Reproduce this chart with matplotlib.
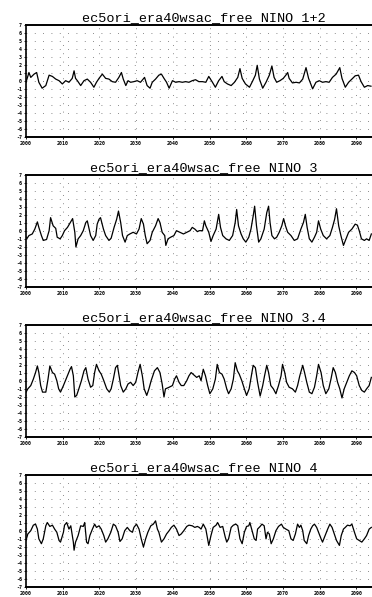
import numpy as np
import matplotlib
matplotlib.use('Agg')
import matplotlib.pyplot as plt

# values (year, index anomaly)
yr_n12 = [2000.0, 2000.8, 2001.3, 2002.2, 2002.9, 2003.5, 2004.4, 2005.4, 2006.3, 2007.2,
          2008.1, 2009.0, 2009.9, 2010.8, 2011.7, 2012.6, 2013.1, 2013.5, 2014.0, 2014.9,
          2015.8, 2016.7, 2017.6, 2018.5, 2019.2, 2019.9, 2020.8, 2021.7, 2022.6, 2023.5,
          2024.4, 2025.3, 2026.0, 2026.5, 2027.2, 2027.8, 2028.5, 2029.4, 2030.3, 2031.2,
          2032.3, 2033.0, 2033.8, 2034.4, 2035.3, 2036.2, 2036.9, 2037.6, 2038.3, 2039.0,
          2039.9, 2040.8, 2041.7, 2042.6, 2043.5, 2044.4, 2045.3, 2046.2, 2047.1, 2048.1,
          2049.0, 2049.8, 2050.7, 2051.6, 2052.5, 2053.4, 2054.0, 2054.9, 2055.9, 2056.8,
          2057.7, 2058.3, 2058.9, 2059.8, 2060.9, 2061.8, 2062.5, 2063.0, 2063.6, 2064.5,
          2065.4, 2066.3, 2067.0, 2067.6, 2068.3, 2069.2, 2070.1, 2070.8, 2071.3, 2071.7,
          2072.6, 2073.6, 2074.5, 2075.4, 2076.3, 2077.0, 2078.1, 2079.0, 2079.9, 2080.8,
          2081.7, 2082.6, 2083.5, 2084.5, 2085.5, 2086.1, 2087.0, 2087.9, 2088.8, 2089.7,
          2090.6, 2091.3, 2092.2, 2093.1, 2094.0]
val_n12 = [-0.16, 1.06, 0.45, 0.86, 1.06, -0.16, -0.9, -0.57, 0.73, 0.57,
           0.24, 0.04, -0.37, 0.04, -0.16, 0.33, 1.27, 0.33, 0.04, -0.57,
           0.04, 0.24, -0.16, -0.78, -0.16, 0.33, 0.86, 0.33, 0.24, -0.08,
           -0.16, 0.45, 1.06, 0.24, -0.57, 0.04, -0.16, -0.08, 0.04, -0.16,
           0.45, -0.57, -0.9, -0.16, 0.24, 0.73, 0.86, 0.33, -0.16, -0.9,
           0.04, -0.16, -0.08, -0.16, -0.08, -0.16, 0.04, 0.16, -0.08, -0.08,
           -0.16, 0.57, -0.08, -0.78, 0.04, 0.57, -0.08, -0.37, -0.57, -0.16,
           0.45, 1.55, 0.33, -0.37, -0.78, 0.04, 0.73, 1.96, 0.24, -0.9,
           -0.16, 0.73, 1.88, 0.45, -0.16, 0.04, 0.33, 0.73, 1.06, 0.33,
           -0.24, -0.16, -0.24, 0.24, 1.67, 0.33, -0.98, -0.16, 0.04, -0.16,
           -0.08, -0.16, 0.45, 0.86, 1.67, 0.33, -0.78, -0.16, 0.24, 0.65,
           0.73, -0.08, -0.78, -0.57, -0.65]

yr_n3 = [2000.0, 2000.2, 2000.8, 2001.7, 2002.4, 2003.1, 2003.5, 2004.2, 2004.7, 2005.6,
         2006.3, 2006.7, 2007.4, 2008.1, 2008.5, 2009.3, 2009.9, 2010.5, 2011.3, 2012.2,
         2012.7, 2013.3, 2013.6, 2014.2, 2014.9, 2015.6, 2016.3, 2016.7, 2017.2, 2017.6,
         2018.3, 2019.0, 2019.4, 2019.9, 2020.3, 2021.1, 2021.7, 2022.6, 2023.2, 2024.0,
         2024.7, 2025.2, 2025.8, 2026.3, 2027.0, 2027.6, 2028.3, 2029.2, 2030.1, 2030.8,
         2031.4, 2032.0, 2032.5, 2033.0, 2033.8, 2034.4, 2035.3, 2036.0, 2036.5, 2037.1,
         2037.8, 2038.1, 2038.7, 2039.4, 2040.3, 2041.0, 2041.9, 2042.9, 2043.8, 2044.7,
         2045.3, 2046.0, 2046.7, 2047.2, 2048.1, 2048.6, 2049.0, 2049.8, 2050.4, 2051.0,
         2051.8, 2052.5, 2053.0, 2053.6, 2054.5, 2055.4, 2056.3, 2057.0, 2057.4, 2057.9,
         2058.6, 2059.2, 2059.9, 2060.7, 2061.3, 2061.9, 2062.3, 2062.8, 2063.4, 2064.0,
         2064.9, 2065.6, 2066.1, 2066.5, 2067.0, 2067.7, 2068.3, 2069.0, 2069.7, 2070.2,
         2070.7, 2071.3, 2072.2, 2073.1, 2074.0, 2074.9, 2075.6, 2076.1, 2076.6, 2077.2,
         2077.9, 2078.6, 2079.2, 2079.7, 2080.3, 2081.0, 2081.9, 2082.8, 2083.5, 2084.1,
         2084.6, 2085.2, 2085.8, 2086.5, 2087.2, 2087.9, 2088.8, 2089.7, 2090.3, 2090.8,
         2091.4, 2092.2, 2092.8, 2093.5, 2094.1]
val_n3 = [-0.8, -0.98, -0.57, -0.37, 0.24, 1.14, 0.45, -0.57, -1.18, -1.06,
          0.04, 1.67, 0.65, 0.33, -0.78, -0.98, -0.57, 0.04, 0.45, 1.14,
          1.55, -0.16, -2.0, -0.98, -0.57, 0.04, 1.06, 1.27, 0.24, -0.57,
          -1.18, -0.57, 0.86, 1.47, 1.67, 0.24, -0.57, -1.18, -0.9, 0.45,
          1.47, 2.49, 1.06, -0.57, -1.39, -0.57, -0.37, -0.16, -0.37, 0.24,
          1.55, 0.86, -0.57, -1.59, -1.18, -0.16, 0.65, 1.55, 1.06, -0.16,
          -0.57, -1.8, -0.98, -0.78, -0.57, 0.04, -0.16, -0.37, -0.16, 0.04,
          0.45, 0.24, -0.08, 0.04, 0.04, 1.27, 0.65, -0.16, -1.31, -0.57,
          0.24, 2.08, 0.45, -0.57, -0.98, -1.18, -0.57, 1.06, 2.69, 0.65,
          -0.37, -0.98, -1.39, -0.78, 0.24, 1.88, 3.1, 0.65, -1.39, -0.98,
          0.24, 2.29, 3.1, 1.06, -0.57, -0.98, -0.78, -0.16, 0.65, 1.55,
          0.65, -0.16, -0.57, -1.18, -0.98, 0.24, 1.06, 2.08, 0.45, -0.98,
          -1.39, -0.78, -0.16, 1.27, 0.24, -0.57, -0.98, -0.57, 0.45, 1.47,
          2.78, 0.65, -0.57, -1.8, -0.98, -0.16, 0.24, 0.86, 0.73, 0.04,
          -0.98, -1.18, -0.98, -1.18, -0.37]

yr_n34 = [2000.0, 2000.5, 2001.3, 2002.0, 2002.6, 2003.1, 2003.5, 2004.0, 2004.5, 2005.4,
          2006.0, 2006.5, 2007.2, 2007.8, 2008.4, 2008.9, 2009.4, 2010.2, 2011.1, 2012.0,
          2012.4, 2012.9, 2013.3, 2013.8, 2014.4, 2015.1, 2015.8, 2016.3, 2016.9, 2017.6,
          2018.2, 2018.7, 2019.2, 2019.9, 2020.5, 2021.2, 2022.0, 2022.7, 2023.2, 2023.8,
          2024.4, 2024.9, 2025.3, 2025.8, 2026.5, 2027.2, 2027.8, 2028.5, 2029.2, 2029.9,
          2030.5, 2031.1, 2031.7, 2032.2, 2032.9, 2033.5, 2034.1, 2035.0, 2035.8, 2036.5,
          2037.1, 2037.6, 2038.0, 2039.0, 2039.9, 2040.5, 2041.0, 2041.7, 2042.3, 2043.0,
          2043.8, 2044.4, 2045.0, 2045.8, 2046.5, 2047.2, 2047.7, 2048.3, 2048.9, 2049.5,
          2050.1, 2050.9, 2051.6, 2052.1, 2052.7, 2053.4, 2054.0, 2054.7, 2055.2, 2055.9,
          2056.5, 2057.0, 2057.6, 2058.1, 2058.8, 2059.5, 2060.1, 2060.8, 2061.4, 2061.9,
          2062.5, 2063.1, 2063.8, 2064.5, 2065.0, 2065.6, 2066.1, 2066.7, 2067.4, 2068.1,
          2068.8, 2069.5, 2069.9, 2070.5, 2071.0, 2071.7, 2072.6, 2073.4, 2074.0, 2074.6,
          2075.4, 2075.9, 2076.5, 2077.2, 2077.9, 2078.6, 2079.2, 2079.7, 2080.4, 2081.0,
          2081.7, 2082.5, 2083.1, 2083.7, 2084.3, 2084.9, 2085.5, 2086.1, 2086.7, 2087.4,
          2088.1, 2088.8, 2089.5, 2090.1, 2090.8, 2091.5, 2092.2, 2092.8, 2093.5, 2094.1]
val_n34 = [-1.4, -0.98, -0.57, 0.24, 1.06, 1.88, 1.06, -0.57, -1.39, -1.39,
           0.24, 1.88, 1.06, 0.86, 0.04, -0.98, -1.39, -0.57, 0.45, 1.47,
           1.8, 0.65, -2.0, -1.8, -0.98, 0.04, 1.27, 1.67, 0.24, -0.78,
           -0.57, 1.06, 2.08, 1.27, 0.86, 0.04, -0.98, -1.39, -0.98, 0.24,
           1.67, 1.96, 0.86, -0.57, -1.39, -0.98, -0.37, -0.16, -0.57, -0.16,
           1.06, 2.08, 0.65, -0.98, -1.8, -0.98, 0.04, 1.27, 1.67, 1.06,
           -0.37, -2.0, -0.98, -0.78, -0.57, 0.24, 0.65, -0.16, -0.57, -0.57,
           0.04, 0.65, 1.06, 0.73, 0.45, 0.65, 0.04, 1.47, 0.65, -0.57,
           -1.59, -0.98, 0.24, 2.08, 1.06, 0.86, 0.24, -0.98, -1.59, -0.98,
           0.24, 2.29, 1.27, 0.86, 0.04, -0.98, -1.8, -0.98, 0.65, 1.96,
           1.67, -0.16, -1.88, -0.57, 0.65, 1.96, 1.06, -0.57, -0.98, -1.59,
           -0.57, 0.65, 2.08, 1.06, -0.16, -0.78, -0.98, -1.39, -0.57, 0.65,
           1.96, 1.06, -0.16, -1.39, -1.59, -0.78, 0.65, 2.08, 1.06, -0.57,
           -1.59, -0.98, 0.24, 1.67, 1.06, -0.16, -0.98, -2.12, -0.98, -0.16,
           0.65, 1.27, 1.06, 0.65, -0.57, -1.18, -1.39, -0.98, -0.57, 0.45]

yr_n4 = [2000.0, 2000.5, 2001.3, 2002.0, 2002.6, 2003.1, 2003.5, 2004.2, 2004.7, 2005.4,
         2005.8, 2006.5, 2007.2, 2007.8, 2008.4, 2009.0, 2009.4, 2010.2, 2010.5, 2011.1,
         2011.7, 2012.2, 2012.9, 2013.1, 2013.5, 2014.2, 2014.9, 2015.6, 2016.0, 2016.5,
         2016.9, 2017.4, 2018.1, 2018.7, 2019.2, 2019.9, 2020.5, 2021.2, 2021.7, 2022.3,
         2023.1, 2023.8, 2024.4, 2025.1, 2025.6, 2026.2, 2026.9, 2027.6, 2028.3, 2029.0,
         2029.4, 2030.1, 2030.8, 2031.4, 2032.0, 2032.6, 2033.2, 2034.0, 2034.7, 2035.3,
         2035.8, 2036.2, 2036.9, 2037.6, 2038.3, 2039.0, 2039.6, 2040.3, 2041.0, 2041.7,
         2042.3, 2043.0, 2043.8, 2044.4, 2045.3, 2046.0, 2046.7, 2047.2, 2047.7, 2048.3,
         2049.0, 2049.8, 2050.4, 2051.0, 2051.8, 2052.2, 2052.9, 2053.6, 2054.3, 2054.7,
         2055.2, 2055.9, 2056.5, 2057.2, 2057.7, 2058.3, 2058.9, 2059.5, 2060.1, 2060.7,
         2061.0, 2061.6, 2062.2, 2062.7, 2063.1, 2063.8, 2064.3, 2064.9, 2065.4, 2065.8,
         2066.3, 2066.8, 2067.4, 2068.1, 2068.8, 2069.6, 2070.1, 2070.8, 2071.6, 2072.2,
         2072.8, 2073.4, 2074.0, 2074.5, 2074.9, 2075.4, 2075.8, 2076.5, 2077.0, 2077.6,
         2078.1, 2078.6, 2079.2, 2079.7, 2080.4, 2080.8, 2081.5, 2082.2, 2082.8, 2083.4,
         2084.0, 2084.6, 2085.4, 2085.9, 2086.5, 2087.0, 2087.6, 2088.3, 2088.8, 2089.5,
         2090.1, 2090.8, 2091.5, 2092.2, 2092.8, 2093.5, 2094.1]
val_n4 = [-1.18, -0.37, 0.04, 0.73, 0.86, 0.24, -0.98, -1.59, -0.98, 0.65,
          1.06, 0.57, 0.73, 0.24, -0.16, -1.18, -1.39, -0.16, 0.73, 1.06,
          0.24, 0.65, -1.39, -2.4, -1.39, -0.57, 0.65, 0.57, 1.06, -1.39,
          -1.59, -0.57, 0.24, 0.86, 0.45, 0.65, 0.24, -0.57, -1.39, -0.98,
          -0.16, 0.86, 0.65, -0.16, -1.31, -0.98, 0.04, 0.45, 0.04, -0.16,
          0.45, 0.86, 0.24, -0.98, -2.0, -0.98, -0.16, 0.65, 0.86, 1.27,
          0.24, -0.16, -1.39, -0.98, -0.37, 0.04, 0.45, 0.73, 0.24, -0.57,
          -0.37, 0.04, 0.57, 0.73, 0.65, 0.45, 0.57, 0.45, 0.24, 0.86,
          0.24, -1.8, -0.57, 0.45, 0.73, 1.06, 0.45, 0.57, -0.78, -1.39,
          -0.98, 0.45, 0.73, 0.86, 0.65, -0.98, -1.59, -0.16, 0.57, 0.65,
          1.06, 0.04, -0.98, -1.18, 0.24, 0.57, 0.86, 0.65, -0.98, -0.16,
          -0.37, -1.59, -0.98, 0.04, 0.57, 0.86, 0.45, 0.24, 0.04, -0.98,
          -1.18, -0.37, 0.86, 0.45, 0.73, 0.04, -1.18, -1.59, -0.57, 0.24,
          0.65, 0.86, 0.45, -0.16, -0.98, -1.39, -0.57, 0.24, 0.86, 0.45,
          -0.37, -1.18, -1.8, -0.57, 0.24, 0.45, 0.73, 0.65, 0.86, -0.16,
          -0.98, -1.18, -1.39, -0.98, -0.57, 0.24, 0.45]

titles = ['ec5ori_era40wsac_free NINO 1+2', 'ec5ori_era40wsac_free NINO 3',
          'ec5ori_era40wsac_free NINO 3.4', 'ec5ori_era40wsac_free NINO 4']
series = [(yr_n12, val_n12), (yr_n3, val_n3), (yr_n34, val_n34), (yr_n4, val_n4)]
xticks = np.arange(2000, 2100, 10)
yticks = np.arange(-7, 8, 1)

W, H = 372, 597
fig = plt.figure(figsize=(W / 100, H / 100), dpi=100)
fig.patch.set_facecolor('white')

# axes tops / bottoms in pixels, from the top of the scan
tops = [25, 175, 325, 475]
left_px = 26
width_px = 367   # full 2000-2100 span, right part falls off the page
hgt_px = 112

for (yrs, vals), title, top in zip(series, titles, tops):
    ax = fig.add_axes([left_px / W, (H - top - hgt_px) / H, width_px / W, hgt_px / H])
    ax.plot(yrs, vals, color='black', lw=0.9)
    ax.set_xlim(2000, 2100)
    ax.set_ylim(-7, 7)
    ax.set_xticks(xticks)
    ax.set_yticks(yticks)
    ax.set_xticklabels([str(t) for t in xticks], fontsize=3.6, fontweight='bold',
                       family='DejaVu Sans Mono')
    ax.set_yticklabels([str(t) for t in yticks], fontsize=3.6, fontweight='bold',
                       family='DejaVu Sans Mono')
    ax.tick_params(axis='both', length=1.5, width=0.6, pad=1.5, colors='black')
    ax.grid(True, color='#666666', linestyle=(0, (1, 9)), linewidth=0.6)
    for side in ['top', 'bottom']:
        ax.spines[side].set_linewidth(1.4)
    ax.spines['left'].set_linewidth(1.2)
    ax.set_title(title, family='Liberation Mono', fontsize=9.7, pad=3, x=0.485)

fig.savefig('out.png', dpi=100, facecolor='white')
